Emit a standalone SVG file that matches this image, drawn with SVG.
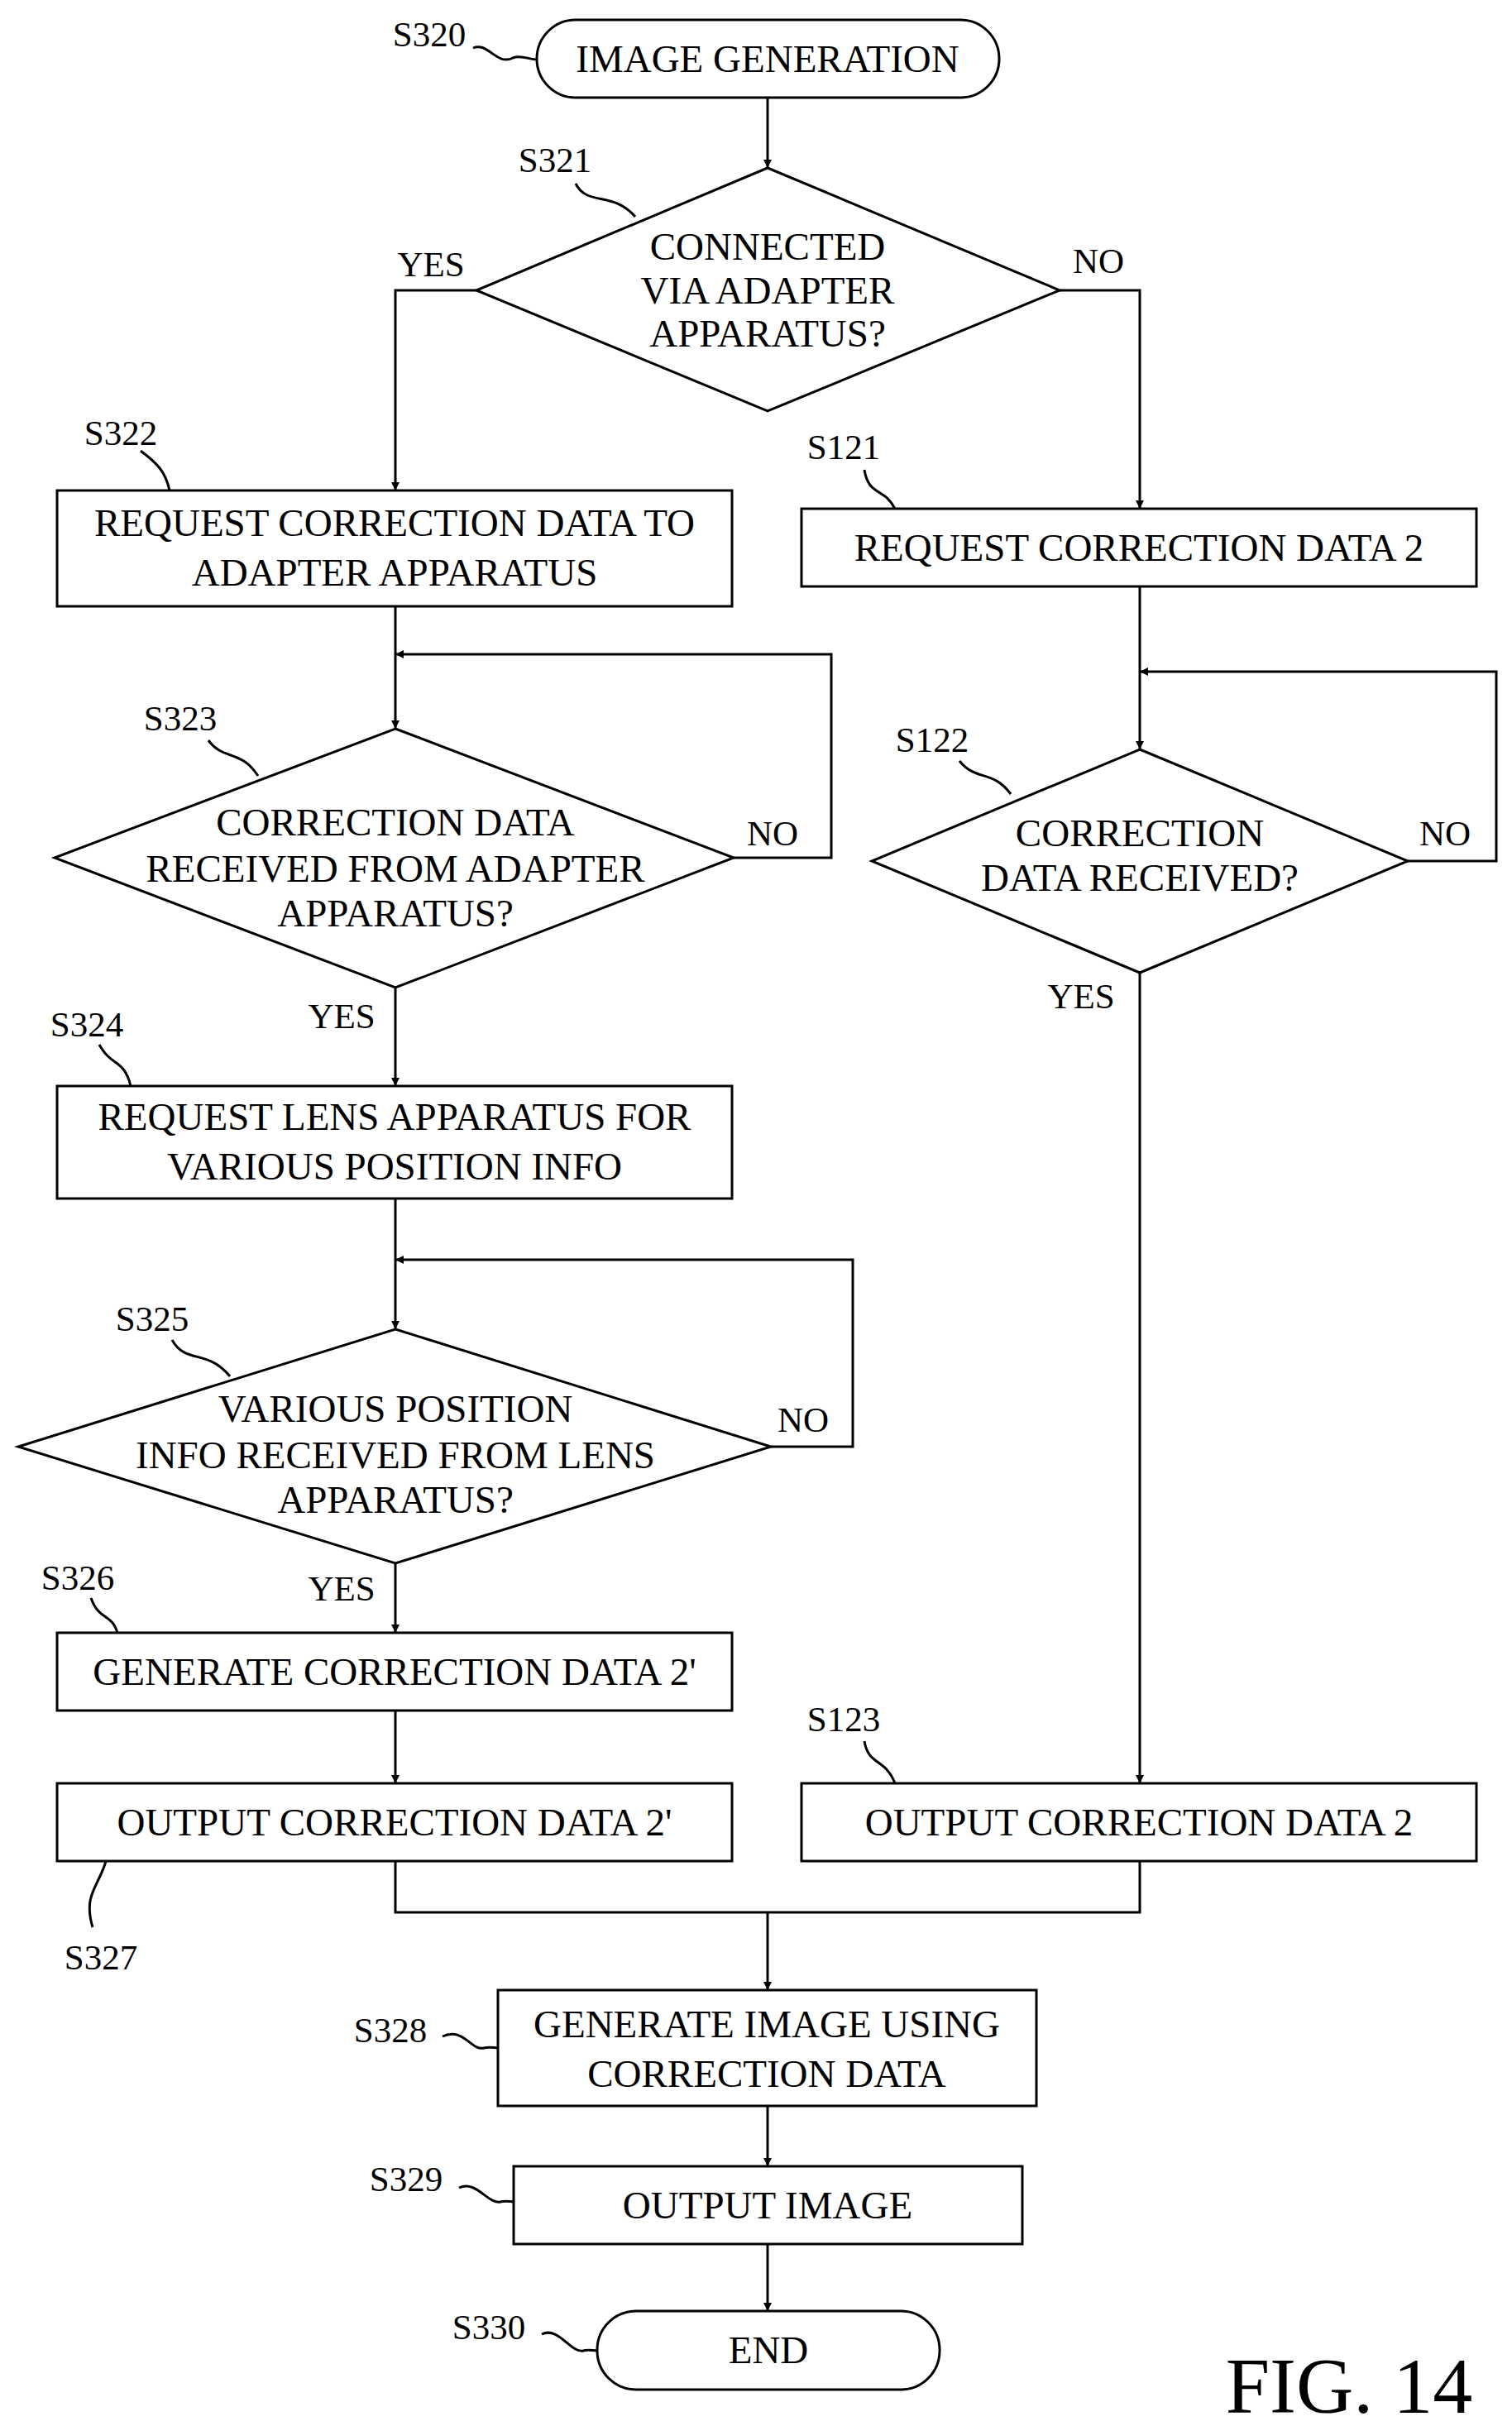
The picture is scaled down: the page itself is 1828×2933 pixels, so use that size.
<svg xmlns="http://www.w3.org/2000/svg" width="1828" height="2933" viewBox="0 0 1828 2933">
<style>
.s{fill:#fff;stroke:#000;stroke-width:3}
.c{fill:none;stroke:#000;stroke-width:3}
.t{font-family:"Liberation Serif",serif;font-size:47px;text-anchor:middle;dominant-baseline:central;fill:#000}
.l{font-family:"Liberation Serif",serif;font-size:43px;text-anchor:middle;dominant-baseline:central;fill:#000}
</style>
<defs><marker id="a" markerWidth="10" markerHeight="10" refX="10" refY="5" orient="auto" markerUnits="userSpaceOnUse" viewBox="0 0 10 10"><path d="M0,0 L10,5 L0,10 z"/></marker></defs>
<rect width="1828" height="2933" fill="#fff"/>
<g id="connectors" class="c">
<path d="M928,118 V203" marker-end="url(#a)"/>
<path d="M576,351 H478 V593" marker-end="url(#a)"/>
<path d="M1281,351 H1378 V615" marker-end="url(#a)"/>
<path d="M478,733 V881" marker-end="url(#a)"/>
<path d="M887,1037 H1005 V791 H478" marker-end="url(#a)"/>
<path d="M478,1194 V1313" marker-end="url(#a)"/>
<path d="M478,1449 V1607" marker-end="url(#a)"/>
<path d="M932,1749 H1031 V1523 H478" marker-end="url(#a)"/>
<path d="M478,1890 V1974" marker-end="url(#a)"/>
<path d="M478,2068 V2156" marker-end="url(#a)"/>
<path d="M1378,709 V906" marker-end="url(#a)"/>
<path d="M1702,1041 H1809 V812 H1378" marker-end="url(#a)"/>
<path d="M1378,1176 V2156" marker-end="url(#a)"/>
<path d="M478,2250 V2312 H1378 V2250"/>
<path d="M928,2312 V2406" marker-end="url(#a)"/>
<path d="M928,2546 V2619" marker-end="url(#a)"/>
<path d="M928,2713 V2794" marker-end="url(#a)"/>
</g>
<g id="edge-labels">
<text class="l" x="521" y="319">YES</text>
<text class="l" x="1328" y="315">NO</text>
<text class="l" x="934" y="1007">NO</text>
<text class="l" x="413" y="1228">YES</text>
<text class="l" x="971" y="1716">NO</text>
<text class="l" x="413" y="1920">YES</text>
<text class="l" x="1747" y="1007">NO</text>
<text class="l" x="1307" y="1204">YES</text>
</g>
<g id="S320"><rect class="s" x="649" y="24" width="559" height="94" rx="47"/><text class="t" x="928" y="71">IMAGE GENERATION</text><text class="l" x="519" y="41">S320</text><path class="c" d="M572,58 C590,50 600,80 620,70 C630,66 640,72 649,72"/></g>
<g id="S321"><polygon class="s" points="928,203 1281,351 928,497 576,351"/><text class="t" x="928" y="298">CONNECTED</text><text class="t" x="928" y="351">VIA ADAPTER</text><text class="t" x="928" y="403">APPARATUS?</text><text class="l" x="671" y="193">S321</text><path class="c" d="M696,222 C710,250 740,230 768,262"/></g>
<g id="S322"><rect class="s" x="69" y="593" width="816" height="140"/><text class="t" x="477" y="632">REQUEST CORRECTION DATA TO</text><text class="t" x="477" y="692">ADAPTER APPARATUS</text><text class="l" x="146" y="523">S322</text><path class="c" d="M170,545 C190,560 200,570 205,593"/></g>
<g id="S121"><rect class="s" x="969" y="615" width="816" height="94"/><text class="t" x="1377" y="662">REQUEST CORRECTION DATA 2</text><text class="l" x="1020" y="540">S121</text><path class="c" d="M1045,568 C1050,600 1070,590 1082,615"/></g>
<g id="S323"><polygon class="s" points="478,881 887,1037 478,1194 66,1037"/><text class="t" x="478" y="994">CORRECTION DATA</text><text class="t" x="478" y="1050">RECEIVED FROM ADAPTER</text><text class="t" x="478" y="1104">APPARATUS?</text><text class="l" x="218" y="868">S323</text><path class="c" d="M252,895 C270,920 290,905 312,938"/></g>
<g id="S324"><rect class="s" x="69" y="1313" width="816" height="136"/><text class="t" x="477" y="1350">REQUEST LENS APPARATUS FOR</text><text class="t" x="477" y="1410">VARIOUS POSITION INFO</text><text class="l" x="105" y="1238">S324</text><path class="c" d="M120,1263 C135,1290 150,1280 158,1313"/></g>
<g id="S325"><polygon class="s" points="478,1607 932,1749 478,1890 22,1749"/><text class="t" x="478" y="1703">VARIOUS POSITION</text><text class="t" x="478" y="1759">INFO RECEIVED FROM LENS</text><text class="t" x="478" y="1813">APPARATUS?</text><text class="l" x="184" y="1594">S325</text><path class="c" d="M208,1620 C225,1650 250,1630 278,1664"/></g>
<g id="S326"><rect class="s" x="69" y="1974" width="816" height="94"/><text class="t" x="477" y="2021">GENERATE CORRECTION DATA 2'</text><text class="l" x="94" y="1907">S326</text><path class="c" d="M110,1932 C120,1960 135,1950 142,1974"/></g>
<g id="S327"><rect class="s" x="69" y="2156" width="816" height="94"/><text class="t" x="477" y="2203">OUTPUT CORRECTION DATA 2'</text><text class="l" x="122" y="2366">S327</text><path class="c" d="M128,2250 C120,2280 100,2290 112,2330"/></g>
<g id="S122"><polygon class="s" points="1378,906 1702,1041 1378,1176 1054,1041"/><text class="t" x="1378" y="1007">CORRECTION</text><text class="t" x="1378" y="1061">DATA RECEIVED?</text><text class="l" x="1127" y="894">S122</text><path class="c" d="M1160,920 C1180,945 1200,930 1222,960"/></g>
<g id="S123"><rect class="s" x="969" y="2156" width="816" height="94"/><text class="t" x="1377" y="2203">OUTPUT CORRECTION DATA 2</text><text class="l" x="1020" y="2078">S123</text><path class="c" d="M1045,2105 C1050,2135 1070,2125 1082,2156"/></g>
<g id="S328"><rect class="s" x="602" y="2406" width="651" height="140"/><text class="t" x="927" y="2447">GENERATE IMAGE USING</text><text class="t" x="927" y="2507">CORRECTION DATA</text><text class="l" x="472" y="2454">S328</text><path class="c" d="M535,2462 C560,2450 570,2480 585,2476 C592,2474 597,2476 602,2476"/></g>
<g id="S329"><rect class="s" x="621" y="2619" width="615" height="94"/><text class="t" x="928" y="2666">OUTPUT IMAGE</text><text class="l" x="491" y="2634">S329</text><path class="c" d="M555,2645 C575,2635 590,2665 605,2662 C612,2660 616,2662 621,2662"/></g>
<g id="S330"><rect class="s" x="722" y="2794" width="414" height="95" rx="47"/><text class="t" x="929" y="2841">END</text><text class="l" x="591" y="2813">S330</text><path class="c" d="M655,2822 C675,2812 690,2845 705,2842 C712,2840 716,2842 722,2842"/></g>
<text x="1631" y="2884" font-family="Liberation Serif,serif" font-size="96" text-anchor="middle" dominant-baseline="central">FIG. 14</text>
</svg>
